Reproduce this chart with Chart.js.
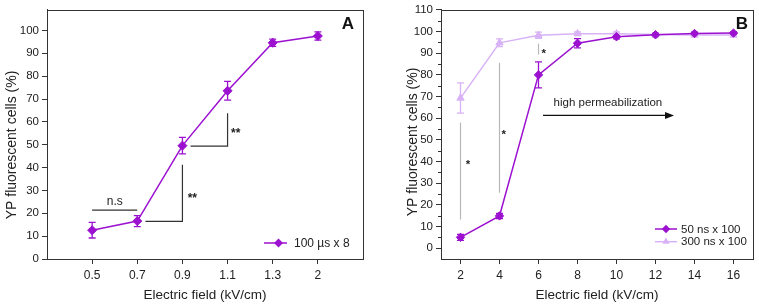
<!DOCTYPE html>
<html>
<head>
<meta charset="utf-8">
<script src="https://cdn.jsdelivr.net/npm/chart.js@4.4.1/dist/chart.umd.min.js"></script>
<style>
  html, body { margin: 0; padding: 0; background: #fff; }
  #wrap { position: relative; width: 759px; height: 308px; }
  .panel { position: absolute; top: 0; height: 308px; }
  #pA { left: 0; width: 380px; }
  #pB { left: 380px; width: 379px; }
</style>
</head>
<body>
<div id="wrap">
  <div class="panel" id="pA"><canvas id="chartA"></canvas></div>
  <div class="panel" id="pB"><canvas id="chartB"></canvas></div>
</div>
<script>
// --- Panel A: 100 us x 8 ---
const camposA  = ['0.5', '0.7', '0.9', '1.1', '1.3', '2'];
const valoresA = [12.6, 16.6, 49.6, 73.6, 94.6, 97.6];
const erroresA = [3.4, 2.4, 3.6, 4.1, 1.6, 1.8];

// --- Panel B: 50 ns y 300 ns x 100 ---
const camposB    = [2, 4, 6, 8, 10, 12, 14, 16];
const valores50  = [5.0, 14.9, 80.0, 94.6, 97.6, 98.5, 99.1, 99.3];
const errores50  = [1.4, 1.2, 6.0, 2.1, 1.0, 0.8, 0.6, 0.6];
const valores300 = [69.3, 94.8, 98.3, 99.0, 99.0, 98.6, 98.4, 98.4];
const errores300 = [7.0, 1.8, 1.4, 0.8, 0.8, 0.6, 0.6, 0.6];

// ticks del eje Y
const ticksYA = [0, 10, 20, 30, 40, 50, 60, 70, 80, 90, 100];
const ticksYB = [0, 10, 20, 30, 40, 50, 60, 70, 80, 90, 100, 110];

// anotaciones (en unidades de datos)
const corchetesA = [
    [[0, 21.4], [1, 21.4]],
    [[1.18, 16.5], [2, 16.5], [2, 41.2]],
    [[2.18, 49.4], [3, 49.4], [3, 63.8]]
];
const textosA = [
    { t: 'n.s', x: 0.5, y: 24.9 },
    { t: '**', x: 2.22, y: 27.5 },
    { t: '**', x: 3.18, y: 56.3 }
];
const lineasB = [
    [[2, 58], [2, 13.2]],
    [[4, 85.6], [4, 25.6]],
    [[6, 94.4], [6, 89.4]]
];
const textosB = [
    { t: '*', x: 2.38, y: 40 },
    { t: '*', x: 4.22, y: 53.9 },
    { t: '*', x: 6.27, y: 91 },
    { t: 'high permeabilization', x: 9.56, y: 67 }
];
const flechaB = [[6.23, 61.3], [12.95, 61.3]];

const familia = "'Liberation Sans', Arial, sans-serif";
const morado = '#9c10d0';
const lila = '#d8b2f6';

const toXY = (xs, ys) => ys.map((v, i) => ({ x: xs[i], y: v }));

// Plugin: marco, barras de error, anotaciones, leyenda, titulo Y
const marcoPlugin = {
    id: 'marco',
    beforeDatasetsDraw(chart) {
        const { ctx, scales } = chart;
        chart.data.datasets.forEach((ds, i) => {
            if (!ds.errores) return;
            const meta = chart.getDatasetMeta(i);
            ctx.save();
            ctx.strokeStyle = ds.borderColor;
            ctx.lineWidth = 1.3;
            meta.data.forEach((pt, j) => {
                const v = ds.data[j].y, e = ds.errores[j];
                const y1 = scales.y.getPixelForValue(v + e);
                const y2 = scales.y.getPixelForValue(v - e);
                ctx.beginPath();
                ctx.moveTo(pt.x, y1); ctx.lineTo(pt.x, y2);
                ctx.moveTo(pt.x - 3.5, y1); ctx.lineTo(pt.x + 3.5, y1);
                ctx.moveTo(pt.x - 3.5, y2); ctx.lineTo(pt.x + 3.5, y2);
                ctx.stroke();
            });
            ctx.restore();
        });
    },
    afterDraw(chart, args, o) {
        const { ctx, chartArea: a, scales } = chart;
        const px = (x) => scales.x.getPixelForValue(x);
        const py = (y) => scales.y.getPixelForValue(y);
        ctx.save();

        // marco
        ctx.strokeStyle = '#333';
        ctx.lineWidth = 1;
        ctx.strokeRect(Math.round(a.left) + 0.5, Math.round(a.top) + 0.5,
                       Math.round(a.right - a.left), Math.round(a.bottom - a.top));

        // ticks menores
        (o.menores || []).forEach(v => {
            const y = Math.round(py(v)) + 0.5;
            ctx.beginPath();
            ctx.moveTo(a.left, y); ctx.lineTo(a.left - 3, y);
            ctx.stroke();
        });

        // lineas de anotacion
        ctx.strokeStyle = o.colorLineas;
        ctx.lineWidth = 1.2;
        (o.lineas || []).forEach(seg => {
            ctx.beginPath();
            seg.forEach((p, k) => {
                const X = px(p[0]), Y = py(p[1]);
                if (k === 0) ctx.moveTo(X, Y); else ctx.lineTo(X, Y);
            });
            ctx.stroke();
        });

        // flecha
        if (o.flecha) {
            const [p0, p1] = o.flecha;
            const x0 = px(p0[0]), x1 = px(p1[0]), y = py(p0[1]);
            ctx.strokeStyle = '#111';
            ctx.fillStyle = '#111';
            ctx.beginPath(); ctx.moveTo(x0, y); ctx.lineTo(x1 - 6, y); ctx.stroke();
            ctx.beginPath(); ctx.moveTo(x1, y); ctx.lineTo(x1 - 9, y - 3.5); ctx.lineTo(x1 - 9, y + 3.5);
            ctx.closePath(); ctx.fill();
        }

        // textos
        ctx.fillStyle = '#222';
        ctx.textAlign = 'center';
        ctx.textBaseline = 'middle';
        (o.textos || []).forEach(tx => {
            const esAst = /^\*+$/.test(tx.t);
            ctx.font = (esAst ? 'bold ' : '') + o.tamTexto + 'px ' + familia;
            ctx.fillText(tx.t, px(tx.x), py(tx.y) + (esAst ? 3 : 0));
        });

        // letra del panel
        ctx.font = 'bold 17px ' + familia;
        ctx.fillStyle = '#111';
        ctx.fillText(o.letra, a.right + o.letraDx, a.top + o.letraDy);

        // titulo eje Y
        ctx.save();
        ctx.translate(o.tituloX, o.tituloY);
        ctx.rotate(-Math.PI / 2);
        ctx.font = '14px ' + familia;
        ctx.fillStyle = '#222';
        ctx.fillText('YP fluorescent cells (%)', 0, 0);
        ctx.restore();

        // leyenda
        const L = o.leyenda;
        chart.data.datasets.forEach((ds, i) => {
            const y = L.y + i * L.fila;
            ctx.strokeStyle = ds.borderColor;
            ctx.lineWidth = 1.5;
            ctx.beginPath(); ctx.moveTo(L.x, y); ctx.lineTo(L.x + L.largo, y); ctx.stroke();
            ctx.fillStyle = ds.pointBackgroundColor;
            Chart.helpers.drawPoint(ctx, {
                pointStyle: ds.pointStyle, radius: ds.pointRadius, rotation: 0, borderWidth: 0
            }, L.x + L.marca, y);
            ctx.fillStyle = '#222';
            ctx.textAlign = 'left';
            ctx.font = L.tam + 'px ' + familia;
            ctx.fillText(ds.label, L.x + L.largo + L.gap, y + 0.5);
        });

        ctx.restore();
    }
};

function escalas(cfg) {
    const ejeComun = {
        type: 'linear',
        grid: { drawOnChartArea: false, drawTicks: true, tickLength: 5, tickColor: '#333', color: '#333' },
        border: { display: true, color: '#333', width: 1 },
    };
    return {
        x: {
            ...ejeComun,
            min: cfg.xMin, max: cfg.xMax,
            afterBuildTicks: s => { s.ticks = cfg.xTicks.map(v => ({ value: v })); },
            afterFit: s => { s.height = cfg.altoX; },
            ticks: {
                color: '#222', padding: 4, maxRotation: 0, autoSkip: false,
                font: { family: familia, size: 12 },
                callback: cfg.xLabel
            },
            title: {
                display: true, text: 'Electric field (kV/cm)', color: '#222',
                font: { family: familia, size: 13.5 }, padding: { top: 0, bottom: 5 }
            }
        },
        y: {
            ...ejeComun,
            min: cfg.yMin, max: cfg.yMax,
            afterBuildTicks: s => { s.ticks = cfg.yTicks.map(v => ({ value: v })); },
            afterFit: s => { s.width = cfg.anchoY; },
            ticks: {
                color: '#222', padding: 3, autoSkip: false,
                font: { family: familia, size: 11.5 }
            }
        }
    };
}

function serie(label, xs, ys, errs, color, estilo, radio) {
    return {
        label: label,
        data: toXY(xs, ys),
        errores: errs,
        borderColor: color,
        backgroundColor: color,
        pointBackgroundColor: color,
        pointBorderColor: color,
        pointBorderWidth: 1,
        pointStyle: estilo,
        pointRadius: radio,
        borderWidth: 1.5,
        tension: 0
    };
}

// --- Grafica A ---
new Chart(document.getElementById('chartA'), {
    type: 'line',
    data: {
        datasets: [
            serie('100 µs x 8', camposA.map((c, i) => i), valoresA, erroresA, morado, 'rectRot', 4.5)
        ]
    },
    options: {
        responsive: true,
        maintainAspectRatio: false,
        animation: false,
        layout: { padding: { top: 5, right: 17, left: 0, bottom: 0 } },
        scales: escalas({
            xMin: -1, xMax: 6, xTicks: camposA.map((c, i) => i), xLabel: v => camposA[v],
            yMin: 0, yMax: 109, yTicks: ticksYA, altoX: 49, anchoY: 47
        }),
        plugins: {
            legend: { display: false },
            tooltip: { enabled: false },
            marco: {
                colorLineas: '#333',
                lineas: corchetesA,
                textos: textosA,
                tamTexto: 12,
                letra: 'A', letraDx: -15, letraDy: 14,
                tituloX: 12, tituloY: 145,
                leyenda: { x: 264, y: 243, fila: 13, largo: 23, marca: 14.5, gap: 7, tam: 12 }
            }
        }
    },
    plugins: [marcoPlugin]
});

// --- Grafica B ---
new Chart(document.getElementById('chartB'), {
    type: 'line',
    data: {
        datasets: [
            serie('50 ns x 100', camposB, valores50, errores50, morado, 'rectRot', 4.2),
            serie('300 ns x 100', camposB, valores300, errores300, lila, 'triangle', 4.2)
        ]
    },
    options: {
        responsive: true,
        maintainAspectRatio: false,
        animation: false,
        layout: { padding: { top: 7, right: 6, left: 0, bottom: 0 } },
        scales: escalas({
            xMin: 1, xMax: 17, xTicks: camposB, xLabel: v => String(v),
            yMin: -5, yMax: 110, yTicks: ticksYB, altoX: 49, anchoY: 61
        }),
        plugins: {
            legend: { display: false },
            tooltip: { enabled: false },
            marco: {
                colorLineas: '#b8b8b8',
                lineas: lineasB,
                textos: textosB,
                flecha: flechaB,
                menores: [5, 15, 25, 35, 45, 55, 65, 75, 85, 95, 105],
                tamTexto: 11.5,
                letra: 'B', letraDx: -11, letraDy: 14,
                tituloX: 33, tituloY: 142,
                leyenda: { x: 275, y: 229, fila: 12.7, largo: 22, marca: 11, gap: 4, tam: 11.5 }
            }
        }
    },
    plugins: [marcoPlugin]
});
</script>
</body>
</html>
